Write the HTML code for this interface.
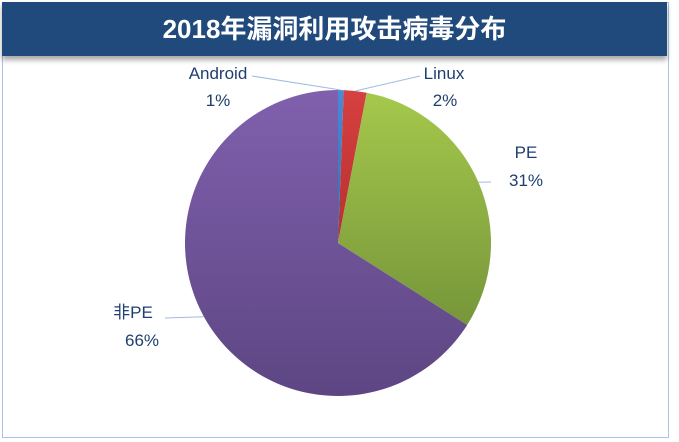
<!DOCTYPE html>
<html><head><meta charset="utf-8"><style>
body{margin:0;width:679px;height:442px;background:#fff;overflow:hidden;font-family:"Liberation Sans","Noto Sans CJK SC",sans-serif}
#frame{position:absolute;left:2px;top:2px;width:667px;height:436px;border:1px solid #a9c4e4;box-sizing:border-box}
#title{position:absolute;left:2px;top:2px;width:665px;height:54px;background:#214a7c;color:#fff;font-size:26px;font-weight:bold;text-align:center;line-height:54px;box-shadow:0 4px 5px rgba(0,0,0,0.35)}
svg{position:absolute;left:0;top:0}
text{font-family:"Liberation Sans","Noto Sans CJK SC",sans-serif;font-size:17px;fill:#1f3f6e}
</style></head><body>
<div id="frame"></div>
<div id="title">2018年漏洞利用攻击病毒分布</div>
<svg id="chart" width="679" height="442">
<defs>
<linearGradient id="g0" x1="0" y1="0" x2="0" y2="1"><stop offset="0" stop-color="#4a8ad6"/><stop offset="1" stop-color="#2f6db5"/></linearGradient>
<linearGradient id="g1" x1="0" y1="0" x2="0" y2="1"><stop offset="0" stop-color="#d64040"/><stop offset="1" stop-color="#b83030"/></linearGradient>
<linearGradient id="g2" x1="0" y1="0" x2="0" y2="1"><stop offset="0" stop-color="#a5c84c"/><stop offset="1" stop-color="#76963a"/></linearGradient>
<linearGradient id="g3" x1="0" y1="0" x2="0" y2="1"><stop offset="0" stop-color="#8060ad"/><stop offset="1" stop-color="#5d4683"/></linearGradient>
</defs>
</svg>
<script>
const categories=["Android","Linux","PE","非PE"];
const values=[0.6,2.4,31,66];
const pctLabels=["1%","2%","31%","66%"];
const fills=["url(#g0)","url(#g1)","url(#g2)","url(#g3)"];
const svg=document.getElementById('chart');
const NS="http://www.w3.org/2000/svg";
const cx=338,cy=243,r=153;
const total=values.reduce((a,b)=>a+b,0);
function pt(a,rr){return [cx+rr*Math.sin(a),cy-rr*Math.cos(a)];}
let a0=0;
const mids=[];
values.forEach((v,i)=>{
  const a1=a0+v/total*2*Math.PI;
  const p0=pt(a0,r),p1=pt(a1,r);
  const large=(a1-a0)>Math.PI?1:0;
  const p=document.createElementNS(NS,'path');
  p.setAttribute('d',`M${cx},${cy}L${p0[0]},${p0[1]}A${r},${r} 0 ${large} 1 ${p1[0]},${p1[1]}Z`);
  p.setAttribute('fill',fills[i]);
  
  
  svg.appendChild(p);
  mids.push((a0+a1)/2);
  a0=a1;
});
const labelPos=[[218,79,218,106,252,76],[444,79,445,106,420,76],[526,158,526,186,491,182],[133,318,142,346,165,318]];
labelPos.forEach((lp,i)=>{
  const m=pt(mids[i],r);
  const ln=document.createElementNS(NS,'polyline');
  ln.setAttribute('points',`${lp[4]},${lp[5]} ${m[0]},${m[1]}`);
  ln.setAttribute('stroke','#9dbbe0');ln.setAttribute('fill','none');ln.setAttribute('stroke-width','1');
  
  
  svg.appendChild(ln);
  const t1=document.createElementNS(NS,'text');
  t1.setAttribute('x',lp[0]);t1.setAttribute('y',lp[1]);t1.setAttribute('text-anchor','middle');
  t1.textContent=categories[i];
  
  
  svg.appendChild(t1);
  const t2=document.createElementNS(NS,'text');
  t2.setAttribute('x',lp[2]);t2.setAttribute('y',lp[3]);t2.setAttribute('text-anchor','middle');
  t2.textContent=pctLabels[i];
  
  
  svg.appendChild(t2);
});
</script>
</body></html>
